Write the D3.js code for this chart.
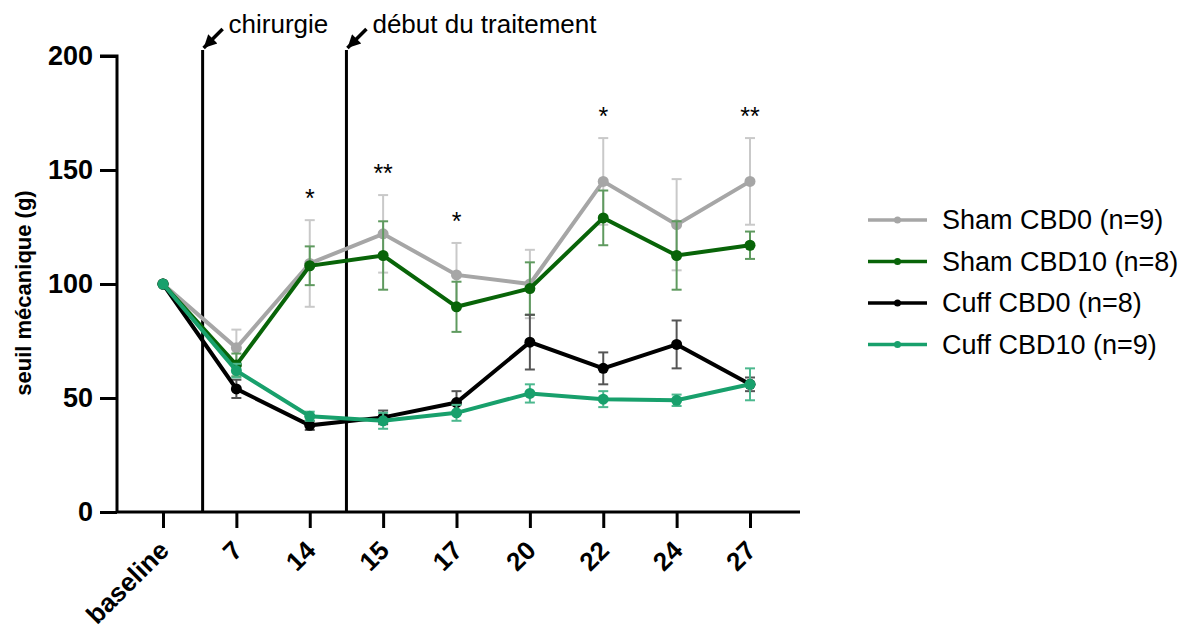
<!DOCTYPE html>
<html>
<head>
<meta charset="utf-8">
<script src="https://cdn.jsdelivr.net/npm/d3@7"></script>
<style>
  body { margin: 0; background: #fff; }
  svg { font-family: "Liberation Sans", Arial, sans-serif; }
</style>
</head>
<body>
<div id="chart"></div>
<script>
const categories = ["baseline", "7", "14", "15", "17", "20", "22", "24", "27"];

const shamCBD0 = [100, 72, 109, 122, 104, 100, 145, 126, 145];
const shamCBD0Err = [0, 8, 19, 17, 14, 15, 19, 20, 19];
const shamCBD10 = [100, 64.5, 108, 112.5, 90, 98, 129, 112.5, 117];
const shamCBD10Err = [0, 5, 8.5, 15, 11, 11.5, 12, 15, 6];
const cuffCBD0 = [100, 54, 38, 41.5, 48, 74.5, 63, 73.5, 56];
const cuffCBD0Err = [0, 4, 2, 3, 5, 12, 7, 10.5, 3];
const cuffCBD10 = [100, 62, 42, 40, 43.5, 52, 49.5, 49, 56];
const cuffCBD10Err = [0, 3, 2, 3.5, 3.5, 4, 3.5, 2.5, 7];

const yTicks = [0, 50, 100, 150, 200];
const stars = [
  { cat: "14", text: "*", top: 128 },
  { cat: "15", text: "**", top: 139 },
  { cat: "17", text: "*", top: 118 },
  { cat: "22", text: "*", top: 164 },
  { cat: "27", text: "**", top: 164 }
];
const events = [
  { pos: 0.54, label: "chirurgie" },
  { pos: 2.5, label: "début du traitement" }
];

const series = [
  { name: "Sham CBD0 (n=9)", values: shamCBD0, err: shamCBD0Err, color: "#a6a6a6", errColor: "#c9c9c9" },
  { name: "Sham CBD10 (n=8)", values: shamCBD10, err: shamCBD10Err, color: "#086408", errColor: "#5f9a5f" },
  { name: "Cuff CBD0 (n=8)", values: cuffCBD0, err: cuffCBD0Err, color: "#000000", errColor: "#555555" },
  { name: "Cuff CBD10 (n=9)", values: cuffCBD10, err: cuffCBD10Err, color: "#18a06c", errColor: "#4cb88e" }
];

const width = 1190, height = 631;
const svg = d3.select("#chart").append("svg").attr("width", width).attr("height", height);

const x = d3.scalePoint().domain(categories).range([163, 750]);
const y = d3.scaleLinear().domain([0, 200]).range([512, 56]);
const step = x.step();
const xIdx = (i) => x(categories[0]) + i * step;

// axes
const yAxis = svg.append("g").attr("transform", "translate(117,0)")
  .call(d3.axisLeft(y).tickValues(yTicks).tickSize(17).tickPadding(7));
yAxis.select(".domain").attr("stroke-width", 3).attr("d", `M-17,${y(200)}H0V${y(0)}`);
yAxis.selectAll(".tick line").attr("stroke-width", 3);
yAxis.selectAll(".tick text").attr("font-size", 27).attr("font-weight", "bold").attr("fill", "#000");

const xAxis = svg.append("g").attr("transform", `translate(0,${y(0)})`)
  .call(d3.axisBottom(x).tickSize(16));
xAxis.select(".domain").attr("stroke-width", 3).attr("d", `M117,0H800`);
xAxis.selectAll(".tick line").attr("stroke-width", 3);
xAxis.selectAll(".tick text")
  .attr("font-size", 26).attr("font-weight", "bold").attr("fill", "#000")
  .attr("text-anchor", "end")
  .attr("x", 0).attr("y", 0).attr("dy", 0)
  .attr("transform", "translate(7,40) rotate(-45)");

svg.append("text")
  .attr("transform", `translate(31,${y(100) + 9}) rotate(-90)`)
  .attr("text-anchor", "middle")
  .attr("font-size", 22).attr("font-weight", "bold")
  .text("seuil mécanique (g)");

// event lines + arrows
const defs = svg.append("defs");
defs.append("marker").attr("id", "arrow")
  .attr("markerUnits", "userSpaceOnUse")
  .attr("viewBox", "0 0 10 10").attr("refX", 10).attr("refY", 5)
  .attr("markerWidth", 15).attr("markerHeight", 13).attr("orient", "auto")
  .append("path").attr("d", "M0,0L10,5L0,10z").attr("fill", "#000");

events.forEach((e) => {
  const ex = xIdx(e.pos);
  svg.append("line").attr("x1", ex).attr("x2", ex).attr("y1", 50).attr("y2", y(0))
    .attr("stroke", "#000").attr("stroke-width", 3);
  svg.append("line").attr("x1", ex + 20).attr("y1", 29).attr("x2", ex + 1).attr("y2", 48)
    .attr("stroke", "#000").attr("stroke-width", 3.5).attr("marker-end", "url(#arrow)");
  svg.append("text").attr("x", ex + 26).attr("y", 33).attr("font-size", 26).text(e.label);
});

// series
const line = d3.line().x((d, i) => x(categories[i])).y((d) => y(d));
series.forEach((s) => {
  const g = svg.append("g");
  g.selectAll("g.err").data(s.values).enter().append("g")
    .each(function (v, i) {
      const e = s.err[i];
      if (!e) return;
      const cx = x(categories[i]);
      const sel = d3.select(this);
      sel.append("line").attr("x1", cx).attr("x2", cx).attr("y1", y(v + e)).attr("y2", y(v - e));
      sel.append("line").attr("x1", cx - 5).attr("x2", cx + 5).attr("y1", y(v + e)).attr("y2", y(v + e));
      sel.append("line").attr("x1", cx - 5).attr("x2", cx + 5).attr("y1", y(v - e)).attr("y2", y(v - e));
    })
    .attr("stroke", s.errColor).attr("stroke-width", 2);
  g.append("path").datum(s.values).attr("d", line)
    .attr("fill", "none").attr("stroke", s.color).attr("stroke-width", 4);
  g.selectAll("circle").data(s.values).enter().append("circle")
    .attr("cx", (d, i) => x(categories[i])).attr("cy", (d) => y(d))
    .attr("r", 5.5).attr("fill", s.color);
});

// significance stars
svg.selectAll("text.star").data(stars).enter().append("text")
  .attr("class", "star")
  .attr("x", (d) => x(d.cat)).attr("y", (d) => y(d.top) - 13)
  .attr("text-anchor", "middle").attr("font-size", 25)
  .text((d) => d.text);

// legend
const legend = svg.append("g").attr("transform", "translate(868,220)");
series.forEach((s, i) => {
  const gy = i * 41.5;
  legend.append("line").attr("x1", 0).attr("x2", 59).attr("y1", gy).attr("y2", gy)
    .attr("stroke", s.color).attr("stroke-width", 3.5);
  legend.append("circle").attr("cx", 29.5).attr("cy", gy).attr("r", 3.5).attr("fill", s.color);
  legend.append("text").attr("x", 74).attr("y", gy).attr("dy", "0.35em")
    .attr("font-size", 27).text(s.name);
});
</script>
</body>
</html>
